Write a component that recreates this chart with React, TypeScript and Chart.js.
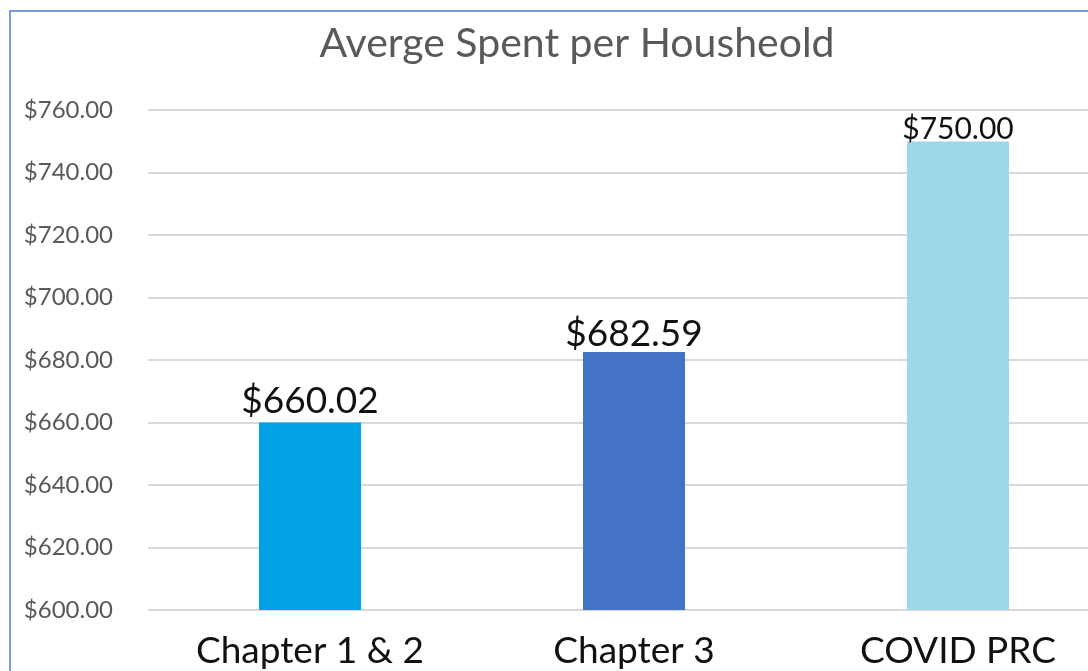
import React, { useEffect, useRef } from "react";
import { Chart, registerables } from "chart.js";

Chart.register(...registerables);

const chartTitle = "Averge Spent per Housheold";
const categories = ["Chapter 1 & 2", "Chapter 3", "COVID PRC"];
const values = [660.02, 682.59, 750.0];
const barColors = ["#00A2E5", "#4472C4", "#9CD8EA"];
const yMin = 600;
const yMax = 760;
const yStep = 20;

const money = (v: number) => "$" + v.toFixed(2);

const FONT = "Lato, 'Open Sans', sans-serif";

const barLabelPlugin = {
  id: "barLabels",
  afterDatasetsDraw(chart: any) {
    const ctx = chart.ctx;
    const meta = chart.getDatasetMeta(0);
    const sizes = [37, 37, 30];
    const gaps = [10, 6, 2];
    meta.data.forEach((bar: any, i: number) => {
      ctx.save();
      ctx.font = `${sizes[i]}px ${FONT}`;
      ctx.fillStyle = "#111111";
      ctx.textAlign = "center";
      ctx.textBaseline = "alphabetic";
      ctx.fillText(money(values[i]), bar.x, bar.y - gaps[i]);
      ctx.restore();
    });
  },
};

export default function App() {
  const canvasRef = useRef<HTMLCanvasElement | null>(null);

  useEffect(() => {
    if (!canvasRef.current) return;
    const chart = new Chart(canvasRef.current, {
      type: "bar",
      data: {
        labels: categories,
        datasets: [
          {
            data: values,
            backgroundColor: barColors,
            borderWidth: 0,
            barPercentage: 0.315,
            categoryPercentage: 1,
          },
        ],
      },
      options: {
        animation: false,
        responsive: false,
        devicePixelRatio: 1,
        layout: { padding: 0 },
        plugins: {
          legend: { display: false },
          tooltip: { enabled: false },
          title: {
            display: true,
            text: chartTitle,
            color: "#595959",
            font: { family: FONT, size: 41, weight: "normal" },
            padding: { top: 7, bottom: 42 },
          },
        },
        scales: {
          x: {
            grid: { display: false },
            border: { display: false },
            ticks: {
              color: "#111111",
              font: { family: FONT, size: 37 },
              padding: 11,
              maxRotation: 0,
            },
            afterFit: (s: any) => {
              s.height = 102;
            },
          },
          y: {
            min: yMin,
            max: yMax,
            grid: { color: "#D9D9D9", lineWidth: 2, drawTicks: false },
            border: { display: false },
            ticks: {
              stepSize: yStep,
              color: "#595959",
              font: { family: FONT, size: 24 },
              padding: 35,
              callback: (v: any) => money(Number(v)),
            },
            afterFit: (s: any) => {
              s.width = 137;
            },
          },
          y2: {
            position: "right",
            display: true,
            grid: { display: false, drawTicks: false },
            border: { display: false },
            ticks: { display: false },
            afterFit: (s: any) => {
              s.width = 23;
            },
          },
        },
      },
      plugins: [barLabelPlugin],
    } as any);
    return () => chart.destroy();
  }, []);

  return (
    <div
      style={{
        position: "fixed",
        left: 0,
        top: 0,
        width: 1088,
        height: 671,
        overflow: "hidden",
        background: "#ffffff",
      }}
    >
      <div
        style={{
          position: "absolute",
          left: 9,
          top: 10,
          borderLeft: "2px solid #7B9BD6",
          borderTop: "2px solid #7B9BD6",
          width: 1140,
          height: 720,
        }}
      >
        <canvas ref={canvasRef} width={1132} height={700} style={{ display: "block" }} />
      </div>
    </div>
  );
}
